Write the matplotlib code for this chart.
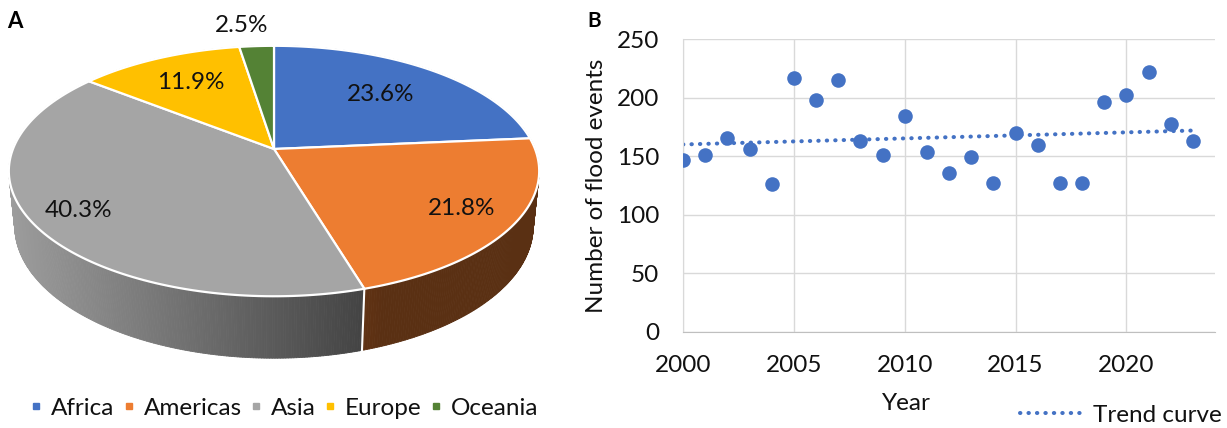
import numpy as np
import matplotlib
matplotlib.use('Agg')
import matplotlib.pyplot as plt
from matplotlib.patches import Polygon
from matplotlib.collections import PolyCollection
from matplotlib.lines import Line2D
from matplotlib.colors import to_rgb

plt.rcParams['font.family'] = ['Lato', 'DejaVu Sans']

# panel A: share of flood events by region (%)
regions = ['Africa', 'Americas', 'Asia', 'Europe', 'Oceania']
shares = [23.6, 21.8, 40.3, 11.9, 2.5]
region_colors = ['#4472C4', '#ED7D31', '#A5A5A5', '#FFC000', '#548235']

# panel B: number of flood events per year
years = list(range(2000, 2024))
floods = [147, 151, 166, 156, 126, 217, 198, 215, 163, 151, 184, 154,
          136, 149, 127, 170, 160, 127, 127, 196, 202, 222, 178, 163]

W, H = 1227, 428
FS = 17.5
TXT = '#111111'
fig = plt.figure(figsize=(W / 100, H / 100), dpi=100)

# ---- 3D pie (Excel style), drawn in pixel coordinates ----
ax_pie = fig.add_axes([0, 0, 560 / W, 1])
ax_pie.set_xlim(0, 560)
ax_pie.set_ylim(H, 0)
ax_pie.axis('off')

TILT = np.radians(27.7)
DIST = 5.03
SCALE = 1313
CX, CY = 274, 149
DEPTH = 0.241


def project(theta, r=1.0, h=0.0):
    # theta clockwise from top, r radius on the disc, h height (negative = down)
    u = r * np.sin(theta)
    w = r * np.cos(theta)
    s, c = np.sin(TILT), np.cos(TILT)
    yc = h * c + w * s
    zc = DIST + w * c - h * s
    return CX + SCALE * u / zc, CY - SCALE * yc / zc, zc


def shade(x):
    return float(np.clip(0.95 - 0.00152 * (x - 8), 0.38, 1.0))


fracs = np.array(shares) / sum(shares)
bounds = np.concatenate([[0], np.cumsum(fracs)]) * 2 * np.pi

# side walls, far strips first
strips = []
for i in range(len(shares)):
    n = max(2, int(np.degrees(bounds[i + 1] - bounds[i]) * 2))
    th = np.linspace(bounds[i], bounds[i + 1], n + 1)
    base = np.array(to_rgb(region_colors[i]))
    for a, b in zip(th[:-1], th[1:]):
        x1, y1, z1 = project(a)
        x2, y2, z2 = project(b)
        x3, y3, _ = project(b, h=-DEPTH)
        x4, y4, _ = project(a, h=-DEPTH)
        col = tuple(base * shade((x1 + x2) / 2))
        strips.append(((z1 + z2) / 2, [(x1, y1), (x2, y2), (x3, y3), (x4, y4)], col))
strips.sort(key=lambda s: -s[0])
ax_pie.add_collection(PolyCollection([s[1] for s in strips],
                                     facecolors=[s[2] for s in strips],
                                     edgecolors=[s[2] for s in strips],
                                     linewidths=0.6))

# white seams on the front wall
for b in bounds[1:-1]:
    if np.cos(b) < 0:
        x1, y1, _ = project(b)
        x2, y2, _ = project(b, h=-DEPTH)
        ax_pie.plot([x1, x2], [y1, y2], color='white', lw=1.5)

# top faces
cx0, cy0, _ = project(0, r=0)
for i in range(len(shares)):
    th = np.linspace(bounds[i], bounds[i + 1], 120)
    pts = [(cx0, cy0)] + [project(t)[:2] for t in th]
    ax_pie.add_patch(Polygon(pts, closed=True, facecolor=region_colors[i],
                             edgecolor='white', lw=1.6, joinstyle='round'))

# data labels
label_r = [0.66, 0.8, 0.83, 0.7, 1.25]
label_shift = [0, 0, 0, 0, -2.5]
for i, v in enumerate(shares):
    mid = (bounds[i] + bounds[i + 1]) / 2 + np.radians(label_shift[i])
    lx, ly, _ = project(mid, r=label_r[i])
    ax_pie.text(lx, ly, f'{v}%', ha='center', va='center', fontsize=FS, color=TXT)

handles = [Line2D([], [], marker='s', ls='none', color=c, markersize=5) for c in region_colors]
fig.legend(handles, regions, loc='center', bbox_to_anchor=(284 / W, 1 - 408 / H),
           ncol=5, frameon=False, fontsize=FS, handlelength=0.55, handletextpad=0.35,
           columnspacing=0.3, borderpad=0, borderaxespad=0, labelcolor=TXT)

# ---- scatter with trend line ----
left, right, top, bottom = 683, 1215, 39.3, 331.7
ax = fig.add_axes([left / W, 1 - bottom / H, (right - left) / W, (bottom - top) / H])
ax.scatter(years, floods, s=110, color='#4472C4', lw=0, zorder=3)
coef = np.polyfit(years, floods, 1)
trend, = ax.plot(years, np.polyval(coef, years), ls=(0, (0.1, 2.0)), lw=2.9,
                 dash_capstyle='round', color='#4472C4', zorder=2)

ax.set_xlim(2000, 2024)
ax.set_ylim(0, 250)
ax.set_xticks(range(2000, 2021, 5))
ax.set_yticks(range(0, 251, 50))
ax.grid(color='#D9D9D9', lw=1)
ax.set_axisbelow(True)
for side in ['top', 'right']:
    ax.spines[side].set_visible(False)
ax.spines['left'].set_color('#D9D9D9')
ax.spines['bottom'].set_color('#BFBFBF')
ax.tick_params(length=0, pad=17, labelsize=FS, colors=TXT)

ax.set_ylabel('Number of flood events', fontsize=FS, color=TXT)
ax.yaxis.set_label_coords((607 - left) / (right - left), 0.5)
ax.set_xlabel('Year', fontsize=FS, color=TXT)
ax.xaxis.set_label_coords((906 - left) / (right - left), -(393 - bottom) / (bottom - top))

fig.legend([trend], ['Trend curve'], loc='center right', bbox_to_anchor=(1222 / W, 1 - 415 / H),
           frameon=False, fontsize=FS, handlelength=2.6, handletextpad=0.4,
           borderpad=0, borderaxespad=0, labelcolor=TXT)

fig.text(15 / W, 1 - 21 / H, 'A', fontsize=16, fontweight='bold', ha='center', va='center')
fig.text(594 / W, 1 - 21 / H, 'B', fontsize=15, fontweight='bold', ha='center', va='center')

fig.savefig('out.png', dpi=100)
